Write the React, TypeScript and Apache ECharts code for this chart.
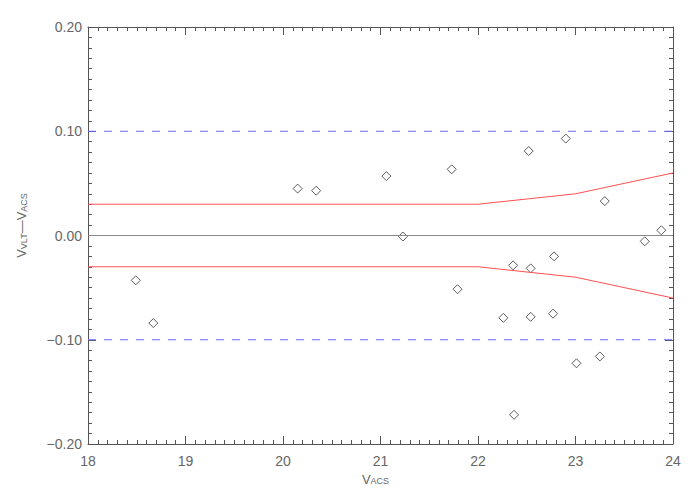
import React, { useEffect, useRef } from "react";
import * as echarts from "echarts";

const vAcs = [18.49, 18.67, 20.15, 20.34, 21.06, 21.23, 21.73, 21.79, 22.26, 22.36, 22.37, 22.52, 22.54, 22.54, 22.77, 22.78, 22.90, 23.01, 23.25, 23.30, 23.71, 23.88];
const vDiff = [-0.043, -0.084, 0.045, 0.043, 0.057, -0.001, 0.0635, -0.0515, -0.079, -0.0286, -0.172, 0.081, -0.0315, -0.078, -0.075, -0.020, 0.093, -0.1226, -0.116, 0.033, -0.0056, 0.005];

const envX = [18, 22, 23, 24];
const envUpper = [0.03, 0.03, 0.04, 0.06];
const envLower = [-0.03, -0.03, -0.04, -0.06];
const limitX = [18, 24];
const limitHi = [0.1, 0.1];
const limitLo = [-0.1, -0.1];
const zeroY = [0, 0];

const axisColor = "#555";
const labelColor = "#666";
const font = "Liberation Sans";

export default function App() {
  const ref = useRef<HTMLDivElement>(null);
  useEffect(() => {
    const chart = echarts.init(ref.current!, null, { renderer: "svg" });
    const fmtY = (v: number) => (v < 0 ? "\u2212" + Math.abs(v).toFixed(2) : v.toFixed(2));
    const baseX = {
      type: "value",
      min: 18,
      max: 24,
      interval: 1,
      axisLine: { show: true, onZero: false, lineStyle: { color: axisColor, width: 1 } },
      axisTick: { show: true, inside: true, length: 8, lineStyle: { color: axisColor } },
      minorTick: { show: true, splitNumber: 10, length: 4, lineStyle: { color: axisColor } },
      splitLine: { show: false },
    };
    const baseY = {
      type: "value",
      min: -0.2,
      max: 0.2,
      interval: 0.1,
      axisLine: { show: true, onZero: false, lineStyle: { color: axisColor, width: 1 } },
      axisTick: { show: true, inside: true, length: 8, lineStyle: { color: axisColor } },
      minorTick: { show: true, splitNumber: 10, length: 4, lineStyle: { color: axisColor } },
      splitLine: { show: false },
    };
    const rich = {
      v: { fontSize: 13, color: labelColor, fontFamily: font },
      s: { fontSize: 9, color: labelColor, fontFamily: font, padding: [4, 0, 0, 0] },
    };
    chart.setOption({
      animation: false,
      backgroundColor: "#fff",
      textStyle: { fontFamily: font },
      grid: { left: 88, right: 27, top: 27, bottom: 56 },
      xAxis: [
        {
          ...baseX,
          position: "bottom",
          axisLabel: { show: true, color: labelColor, fontSize: 14, fontFamily: font, margin: 10 },
          name: "{v|V}{s|ACS}",
          nameLocation: "middle",
          nameGap: 28,
          nameTextStyle: { padding: [0, 10, 0, 0], rich },
        },
        { ...baseX, position: "top", axisLabel: { show: false } },
      ],
      yAxis: [
        {
          ...baseY,
          position: "left",
          axisLabel: { show: true, color: labelColor, fontSize: 14, fontFamily: font, margin: 6, formatter: fmtY },
          name: "{v|V}{s|VLT}{v|\u2014V}{s|ACS}",
          nameLocation: "middle",
          nameGap: 60,
          nameRotate: 90,
          nameTextStyle: { padding: [0, 0, 0, 20], rich },
        },
        { ...baseY, position: "right", axisLabel: { show: false } },
      ],
      series: [
        {
          type: "line",
          data: limitX.map((x, i) => [x, zeroY[i]]),
          showSymbol: false,
          lineStyle: { color: "#888", width: 1 },
          silent: true,
        },
        {
          type: "line",
          data: limitX.map((x, i) => [x, limitHi[i]]),
          showSymbol: false,
          lineStyle: { color: "#6a6aff", width: 1, type: [8, 8] },
          silent: true,
        },
        {
          type: "line",
          data: limitX.map((x, i) => [x, limitLo[i]]),
          showSymbol: false,
          lineStyle: { color: "#6a6aff", width: 1, type: [8, 8] },
          silent: true,
        },
        {
          type: "line",
          data: envX.map((x, i) => [x, envUpper[i]]),
          showSymbol: false,
          lineStyle: { color: "#ff5050", width: 1 },
          silent: true,
        },
        {
          type: "line",
          data: envX.map((x, i) => [x, envLower[i]]),
          showSymbol: false,
          lineStyle: { color: "#ff5050", width: 1 },
          silent: true,
        },
        {
          type: "scatter",
          data: vAcs.map((x, i) => [x, vDiff[i]]),
          symbol: "diamond",
          symbolSize: [9, 9],
          itemStyle: { color: "rgba(255,255,255,0)", borderColor: "#333", borderWidth: 1 },
        },
      ],
    });
    return () => chart.dispose();
  }, []);
  return <div ref={ref} style={{ width: 700, height: 500, margin: -8 }} />;
}
